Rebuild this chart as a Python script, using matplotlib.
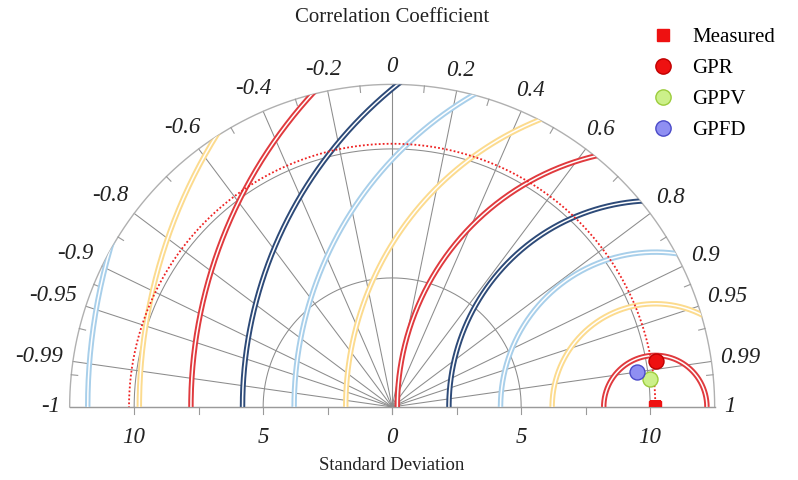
import numpy as np
import matplotlib
matplotlib.use("Agg")
import matplotlib.pyplot as plt
from matplotlib.patches import Wedge
from matplotlib.lines import Line2D

plt.rcParams['font.family'] = ['Liberation Serif', 'DejaVu Serif']

# reference (measured) and model statistics
ref_std = 10.2
model_names = ["GPR", "GPPV", "GPFD"]
model_std = [10.4, 10.05, 9.6]
model_corr = [0.985, 0.994, 0.990]
model_face = ["#ee1111", "#ccf08a", "#8f8ff2"]
model_edge = ["#c00000", "#9ccc3c", "#4a4ac8"]

# centred RMS contours and their colour cycle
rms_levels = [2, 4, 6, 8, 10, 12, 14, 16, 18, 20, 22]
rms_cycle = ["#e03a3e", "#fcdb8e", "#a8cfea", "#2d4a78"]

# correlation axis
corr_major = [0, 0.2, 0.4, 0.6, 0.8, 0.9, 0.95, 0.99, 1]
corr_minor = [0.1, 0.3, 0.5, 0.7, 0.85, 0.925, 0.97, 0.995]
std_major = [0, 5, 10]
std_minor = [2.5, 7.5]
std_max = 12.5

fig = plt.figure(figsize=(7.98, 4.80), dpi=100)
ax = fig.add_axes([0, 0, 1, 1])
ax.set_xlim(-15.2, 15.73)
ax.set_ylim(-2.83, 15.77)
ax.axis('off')

half = Wedge((0, 0), std_max, 0, 180, transform=ax.transData)
t = np.linspace(0, np.pi, 400)
grid = dict(color="#8c8c8c", lw=0.75, zorder=1)

# radial correlation lines (both signs)
for c in corr_major:
    for s in (1, -1):
        th = np.arccos(s * c)
        ax.plot([0, std_max * np.cos(th)], [0, std_max * np.sin(th)], **grid)

# std arcs
for r in (5, 10):
    ax.plot(r * np.cos(t), r * np.sin(t), **grid)
ax.plot(std_max * np.cos(t), std_max * np.sin(t), color="#b0b0b0", lw=1.0, zorder=1)
ax.plot([-std_max, std_max], [0, 0], color="#9a9a9a", lw=1.0, zorder=1)

# minor ticks on the outer arc
for c in corr_minor:
    for s in (1, -1):
        th = np.arccos(s * c)
        ax.plot([(std_max - 0.25) * np.cos(th), std_max * np.cos(th)],
                [(std_max - 0.25) * np.sin(th), std_max * np.sin(th)],
                color="#9a9a9a", lw=0.8, zorder=1)

# ticks along the std axis
for v in std_major + std_minor:
    for s in (1, -1):
        ax.plot([s * v, s * v], [0, -0.28], color="#9a9a9a", lw=0.8, zorder=1)

# RMS difference contours, drawn as double lines
for i, rms in enumerate(rms_levels):
    col = rms_cycle[i % len(rms_cycle)]
    x = ref_std + rms * np.cos(t)
    y = rms * np.sin(t)
    l1, = ax.plot(x, y, color=col, lw=3.9, zorder=2, solid_capstyle='butt')
    l2, = ax.plot(x, y, color="white", lw=1.1, zorder=2, solid_capstyle='butt')
    l1.set_clip_path(half)
    l2.set_clip_path(half)

# reference std arc
ax.plot(ref_std * np.cos(t), ref_std * np.sin(t), color="#ee2222", lw=1.3,
        ls=(0, (1, 1.2)), zorder=3)

# correlation labels
for c in corr_major:
    for s in (1, -1):
        if c == 0 and s == -1:
            continue
        th = np.arccos(s * c)
        lab = f"{s * c:g}"
        r = 12.9 + 0.175 * len(lab) * abs(np.cos(th)) + 0.3 * abs(np.sin(th))
        ax.text(r * np.cos(th), r * np.sin(th), lab, ha='center', va='center',
                fontsize=16.5, style='italic', color="#222222")

# std labels
for v in std_major:
    for s in ((1,) if v == 0 else (1, -1)):
        ax.text(s * v, -1.2, f"{v:g}", ha='center', va='center',
                fontsize=16.5, style='italic', color="#222222")

fig.text(392 / 798, 1 - 18 / 480, "Correlation Coefficient", ha='center',
         va='center', fontsize=15, color="#222222")
fig.text(392 / 798, 1 - 466 / 480, "Standard Deviation", ha='center',
         va='center', fontsize=13.5, color="#222222")

# measured point (half hidden under the axis) and models
m, = ax.plot([ref_std], [0], 's', color="#ee1111", ms=8.6, zorder=5)
m.set_clip_path(half)
for name, sd, cc, fc, ec in zip(model_names, model_std, model_corr, model_face, model_edge):
    th = np.arccos(cc)
    ax.plot(sd * np.cos(th), sd * np.sin(th), 'o', ms=10.8, mfc=fc, mec=ec,
            mew=1.0, zorder=6)

handles = [Line2D([], [], ls='none', marker='s', ms=8, color="#ee1111")]
for fc, ec in zip(model_face, model_edge):
    handles.append(Line2D([], [], ls='none', marker='o', ms=11, mfc=fc, mec=ec, mew=1.0))
fig.legend(handles, ["Measured"] + model_names, loc='upper left',
           bbox_to_anchor=(634 / 798, 1 - 9 / 480), frameon=False, fontsize=15,
           handlelength=1.0, handletextpad=0.9, labelspacing=0.55)

fig.savefig("out.png", dpi=100)
